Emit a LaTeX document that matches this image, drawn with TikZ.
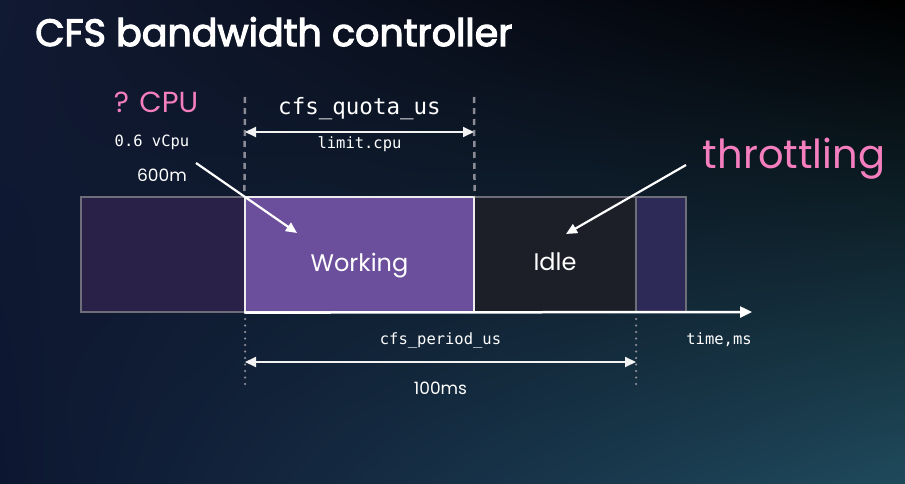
\documentclass[tikz,border=0pt]{standalone}
\usepackage{fontspec}
\setmonofont{DejaVu Sans Mono}
\newfontfamily\titlefont{Poppins}[FakeBold=3]
\newfontfamily\handfont{Poppins}
\usetikzlibrary{arrows.meta,positioning,shadings}
\definecolor{bgnavy}{HTML}{111A33}
\definecolor{bgteal}{HTML}{1F4A5C}
\definecolor{bgdeep}{HTML}{0D1630}
\definecolor{slotpurple}{HTML}{2A2148}
\definecolor{workpurple}{HTML}{6C4F9C}
\definecolor{idlegray}{HTML}{1D1F28}
\definecolor{slotright}{HTML}{2E2A57}
\definecolor{notepink}{HTML}{F47EBE}
\definecolor{edgegray}{HTML}{6E6E7A}

\begin{document}
\begin{tikzpicture}[
  x=1pt, y=1pt,
  slot/.style={draw=edgegray, line width=1.2pt, minimum height=115pt, inner sep=0pt},
  mono/.style={text=white, font=\ttfamily\fontsize{15.5}{18}\selectfont, inner sep=1pt},
  hand/.style={text=white, font=\handfont\fontsize{24}{28}\selectfont, inner sep=1pt},
  arr/.style={-{Triangle[length=11pt, width=10pt]}, white, line width=2.2pt},
  span/.style={{Triangle[length=11pt, width=10pt]}-{Triangle[length=11pt, width=10pt]}, white!90!gray, line width=2pt},
  guide/.style={edgegray!80!white, line width=2.5pt, dash pattern=on 6pt off 5pt},
  dots/.style={edgegray!80!white, line width=2.5pt, line cap=round, dash pattern=on 0pt off 6.5pt},
]
  % Background
  \shade[upper left=bgnavy, upper right=black, lower left=bgdeep, lower right=bgteal] (0,0) rectangle (905,483);
  \useasboundingbox (0,0) rectangle (905,483);

  % Title
  \node[anchor=base west, text=white, font=\titlefont\fontsize{38}{44}\selectfont, inner sep=0pt] (title) at (35,437) {CFS bandwidth controller};

  % Time slots
  \node[slot, fill=slotpurple, minimum width=164pt] (prev) at (163,228.5) {};
  \node[slot, fill=slotright, minimum width=50pt] (next) at (661,228.5) {};
  \node[slot, fill=idlegray, minimum width=162pt, label={[hand, yshift=-7pt]center:Idle}] (idle) at (555,228.5) {};
  \node[slot, draw=white!85!gray, fill=workpurple, minimum width=229pt, label={[hand, yshift=-11pt]center:Working}] (work) at (359.5,228.5) {};

  % Time axis
  \coordinate (tend) at (752,171);
  \draw[-{Triangle[length=12pt, width=11pt]}, white, line width=2.5pt] (work.south west) -- (tend);
  \node[mono] (time) at (719,143) {time,ms};

  % Quota
  \coordinate (q1) at (245,386);
  \coordinate (q2) at (474,386);
  \draw[guide] (q1) -- (work.north west);
  \draw[guide] (q2) -- (work.north east);
  \coordinate (qa) at (245,351);
  \coordinate (qb) at (474,351);
  \draw[span] (qa) -- (qb);
  \node[mono, font=\ttfamily\fontsize{22.5}{26}\selectfont] (quota) at (359.5,374) {cfs\_quota\_us};
  \node[mono] (limit) at (359.5,339) {limit.cpu};

  % Period
  \coordinate (p1) at (245,93);
  \coordinate (p2) at (636,93);
  \draw[dots] (245,164) -- (p1);
  \draw[dots] (636,164) -- (p2);
  \coordinate (pa) at (245,121);
  \coordinate (pb) at (636,121);
  \draw[span] (pa) -- (pb);
  \node[mono] (period) at (440.5,143) {cfs\_period\_us};
  \node[hand, font=\handfont\fontsize{17}{20}\selectfont] (ms) at (440.5,95) {100ms};

  % CPU request
  \node[hand, text=notepink, font=\handfont\fontsize{29}{32}\selectfont] (cpu) at (156,381) {? CPU};
  \node[mono] (vcpu) at (152,341) {0.6 vCpu};
  \node[hand, font=\handfont\fontsize{17}{20}\selectfont] (milli) at (162,308) {600m};
  \coordinate (cpustart) at (196,320);
  \coordinate (cpuend) at (297,250);
  \draw[arr] (cpustart) -- (cpuend);

  % Throttling
  \node[hand, text=notepink, font=\handfont\fontsize{40}{44}\selectfont] (thr) at (794,324) {throttling};
  \coordinate (thrstart) at (686,318);
  \coordinate (thrend) at (566,249);
  \draw[arr] (thrstart) -- (thrend);
\end{tikzpicture}
\end{document}
